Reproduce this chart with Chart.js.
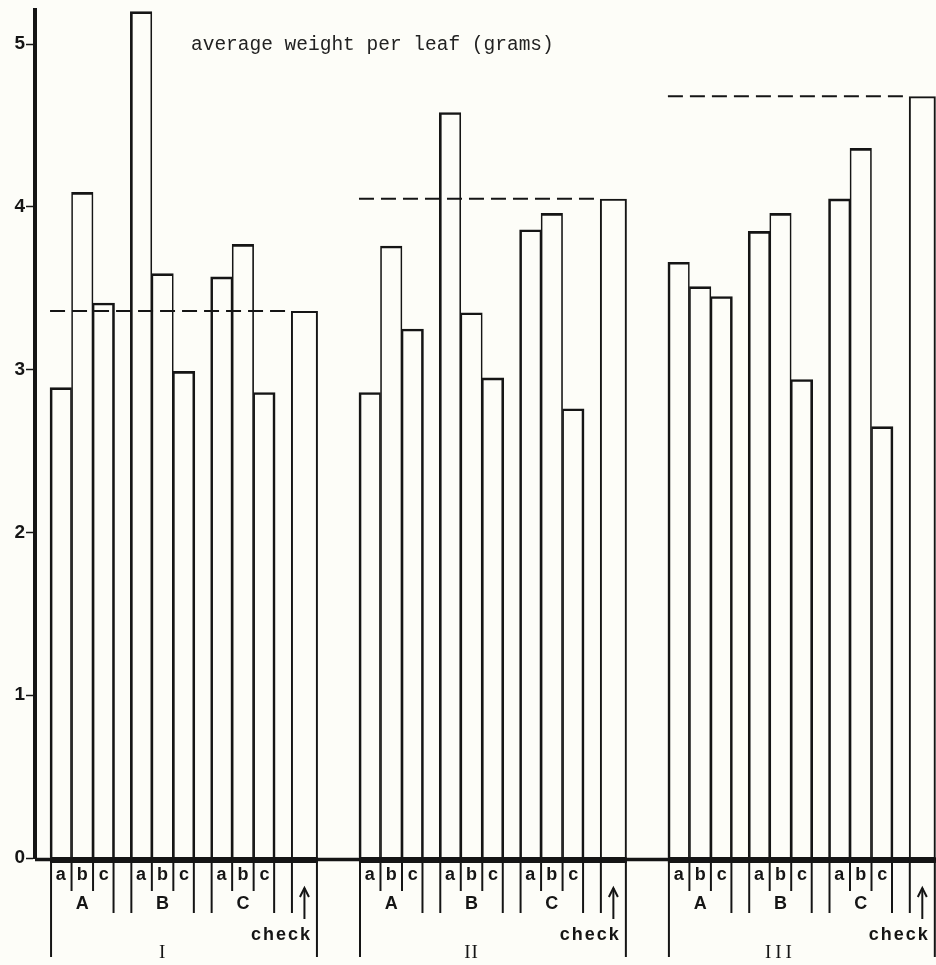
<!DOCTYPE html>
<html>
<head>
<meta charset="utf-8">
<script src="https://cdn.jsdelivr.net/npm/chart.js@4.4.1/dist/chart.umd.min.js"></script>
<style>
  html, body { margin: 0; padding: 0; background: #fdfdf8; }
  canvas { display: block; }
</style>
</head>
<body>
<canvas id="c" width="936" height="965"></canvas>
<script>
// ---------------- data ----------------
const titleText = 'average weight per leaf (grams)';
const blocks = ['I', 'II', 'III'];
const treatments = ['A', 'B', 'C'];
const levels = ['a', 'b', 'c'];
const checkLabel = 'check';
const yTicks = [0, 1, 2, 3, 4, 5];
// order: A-a, A-b, A-c, B-a, B-b, B-c, C-a, C-b, C-c
const valuesI   = [2.89, 4.09, 3.41, 5.20, 3.59, 2.99, 3.57, 3.77, 2.86];
const valuesII  = [2.86, 3.76, 3.25, 4.58, 3.35, 2.95, 3.86, 3.96, 2.76];
const valuesIII = [3.66, 3.51, 3.45, 3.85, 3.96, 2.94, 4.05, 4.36, 2.65];
const checkValues = [3.36, 4.05, 4.68];

// ---------------- layout (units = one bar width) ----------------
const GAP = 0.735, CHECK_W = 1.256, PITCH = 14.37;
const X_MIN = -0.70, X_MAX = 41.21, Y_MAX = 5.21;
const PAPER = '#fdfdf8', INK = '#151515';
const groupStart = g => g * PITCH;
const subStart = (g, s) => groupStart(g) + s * (3 + GAP);
const groupEnd = g => subStart(g, 3) + CHECK_W;

const blockValues = [valuesI, valuesII, valuesIII];
const treatData = [];
blockValues.forEach((vals, g) => vals.forEach((v, i) => {
  treatData.push({ x: subStart(g, Math.floor(i / 3)) + (i % 3) + 0.5, y: v });
}));
const checkData = checkValues.map((v, g) => ({ x: subStart(g, 3) + CHECK_W / 2, y: v }));

const refLines = checkValues.map((v, g) => ({
  type: 'line',
  label: 'check level ' + blocks[g],
  data: [{ x: groupStart(g), y: v }, { x: subStart(g, 3), y: v }],
  borderColor: INK, borderWidth: 2, borderDash: [15, 7],
  pointRadius: 0, fill: false, order: 0
}));

// ---------------- custom drawing (labels under the axis, title) ----------------
const stripPlugin = {
  id: 'strip',
  beforeDraw(chart) {
    const { ctx, width, height } = chart;
    ctx.save(); ctx.fillStyle = PAPER; ctx.fillRect(0, 0, width, height); ctx.restore();
  },
  afterDraw(chart) {
    const { ctx, chartArea, scales: { x, y } } = chart;
    const px = u => x.getPixelForValue(u);
    const y0 = y.getPixelForValue(0);
    const seg = (x1, y1, x2, y2) => { ctx.beginPath(); ctx.moveTo(x1, y1); ctx.lineTo(x2, y2); ctx.stroke(); };
    ctx.save();
    ctx.strokeStyle = INK; ctx.fillStyle = INK;

    // baseline
    ctx.lineWidth = 3.5;
    seg(chartArea.left, y0 + 1.5, chartArea.right, y0 + 1.5);
    ctx.lineWidth = 6;
    blocks.forEach((b, g) => seg(px(groupStart(g)), y0 + 2, px(groupEnd(g)), y0 + 2));

    // separators below the axis
    const yShort = y0 + 33, yMed = y0 + 55, yLong = y0 + 99;
    ctx.lineWidth = 2;
    blocks.forEach((b, g) => {
      seg(px(groupStart(g)) + 1, y0, px(groupStart(g)) + 1, yLong);
      seg(px(groupEnd(g)) - 1, y0, px(groupEnd(g)) - 1, yLong);
      treatments.forEach((t, s) => {
        const l = subStart(g, s);
        if (s > 0) seg(px(l) + 1, y0, px(l) + 1, yMed);
        seg(px(l + 1), y0, px(l + 1), yShort);
        seg(px(l + 2), y0, px(l + 2), yShort);
        seg(px(l + 3) - 1, y0, px(l + 3) - 1, yMed);
      });
      seg(px(subStart(g, 3)) + 1, y0, px(subStart(g, 3)) + 1, yMed);
    });

    // labels
    ctx.textAlign = 'center';
    ctx.textBaseline = 'alphabetic';
    blocks.forEach((b, g) => {
      ctx.font = 'bold 18px "Liberation Sans", Arial, sans-serif';
      ctx.letterSpacing = '0px';
      treatments.forEach((t, s) => {
        const l = subStart(g, s);
        levels.forEach((lv, k) => ctx.fillText(lv, px(l + k + 0.5), y0 + 22));
        ctx.fillText(t, px(l + 1.5), y0 + 51);
      });
      // check label + arrow
      const cc = px(subStart(g, 3) + CHECK_W / 2);
      ctx.textAlign = 'right';
      ctx.letterSpacing = '2px';
      ctx.fillText(checkLabel, px(groupEnd(g)) - 6, y0 + 82);
      ctx.letterSpacing = '0px';
      ctx.textAlign = 'center';
      ctx.lineWidth = 2;
      seg(cc, y0 + 61, cc, y0 + 30);
      ctx.beginPath();
      ctx.moveTo(cc - 4.5, y0 + 39); ctx.lineTo(cc, y0 + 30); ctx.lineTo(cc + 4.5, y0 + 39);
      ctx.stroke();
      // block numeral, centred under A..C
      ctx.font = '19px "Liberation Serif", "Times New Roman", serif';
      ctx.letterSpacing = b.length > 2 ? '4px' : '1px';
      ctx.fillText(b, px(groupStart(g) + (9 + 2 * GAP) / 2), y0 + 100);
      ctx.letterSpacing = '0px';
    });

    // title (typewritten, inside the plot)
    ctx.textAlign = 'left';
    ctx.font = '19.5px "Liberation Mono", "Courier New", monospace';
    ctx.fillStyle = '#222';
    ctx.fillText(titleText, chartArea.left + 156, chartArea.top + 40);
    ctx.restore();
  }
};

// ---------------- chart ----------------
new Chart(document.getElementById('c'), {
  type: 'bar',
  data: {
    datasets: [
      ...refLines,
      {
        label: 'treatments',
        data: treatData,
        backgroundColor: 'rgba(0,0,0,0)',
        borderColor: INK,
        borderWidth: ctx => {
          const b = ctx.dataIndex % 3;
          return { top: 2, bottom: 0, left: b === 0 ? 2 : 1, right: b === 2 ? 2 : 1 };
        },
        barPercentage: 1, categoryPercentage: 1, grouped: false, order: 1
      },
      {
        label: checkLabel,
        data: checkData,
        backgroundColor: 'rgba(0,0,0,0)',
        borderColor: INK,
        borderWidth: { top: 2, bottom: 0, left: 2, right: 2 },
        barPercentage: CHECK_W, categoryPercentage: 1, grouped: false, order: 1
      }
    ]
  },
  options: {
    responsive: false,
    animation: false,
    events: [],
    devicePixelRatio: 1,
    layout: { padding: { top: 10, bottom: 107, left: 0, right: 0 } },
    plugins: { legend: { display: false }, tooltip: { enabled: false }, title: { display: false } },
    scales: {
      x: {
        type: 'linear', display: false, offset: false, min: X_MIN, max: X_MAX,
        grid: { offset: false },
        ticks: { stepSize: 10, includeBounds: false }
      },
      y: {
        type: 'linear', min: 0, max: Y_MAX,
        afterBuildTicks: s => { s.ticks = yTicks.map(v => ({ value: v })); },
        afterFit: s => { s.width = 35; s.paddingTop = 0; s.paddingBottom = 0; },
        ticks: {
          color: INK, padding: 1,
          font: { family: 'Liberation Sans', weight: 'bold', size: 19 }
        },
        grid: { drawOnChartArea: false, drawTicks: true, tickLength: 9, tickWidth: 1.5, tickColor: INK, color: INK },
        border: { display: true, width: 4, color: INK }
      }
    }
  },
  plugins: [stripPlugin]
});
</script>
</body>
</html>
